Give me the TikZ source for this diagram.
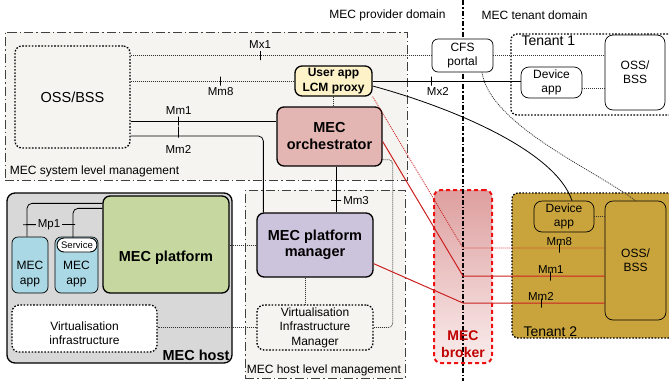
\documentclass[tikz,border=0pt]{standalone}
\usepackage{fontspec}
\setmainfont{Liberation Sans}
\usepackage{xcolor}
\usepackage{tikz}
\usetikzlibrary{positioning,backgrounds}
\definecolor{mgmtfill}{HTML}{F5F4F0}
\definecolor{hostfill}{HTML}{D8D8D8}
\definecolor{orchfill}{HTML}{E3B6B3}
\definecolor{mpmfill}{HTML}{CCC3DC}
\definecolor{platfill}{HTML}{C6D8A0}
\definecolor{appfill}{HTML}{AAD8E4}
\definecolor{proxyfill}{HTML}{FDF2C8}
\definecolor{tenantfill}{HTML}{C9A43C}
\definecolor{brokerstroke}{HTML}{EE1111}
\definecolor{brokertext}{HTML}{C00000}
\definecolor{brokertop}{HTML}{DE9F9F}
\definecolor{brokerbot}{HTML}{FAEDED}
\definecolor{redref}{HTML}{CC2020}
\tikzset{
  lbl/.style={font=\fontsize{12}{14.4}\selectfont},
  reflbl/.style={font=\fontsize{11.5}{13}\selectfont, inner sep=1.5pt},
  mgmtbox/.style={draw=black!75, fill=mgmtfill, line width=0.8pt,
                  dash pattern=on 9pt off 3pt on 1.5pt off 3pt, inner sep=0pt},
  dotbox/.style={draw, rounded corners=7pt, line width=1.3pt,
                 dash pattern=on 1.6pt off 1.6pt, inner sep=0pt, align=center},
  funcbox/.style={draw, rounded corners=7pt, line width=1.3pt, inner sep=0pt,
                  align=center, font=\fontsize{14.5}{17}\selectfont\bfseries},
  plainbox/.style={draw, rounded corners=6pt, line width=0.7pt, inner sep=0pt,
                   align=center, font=\fontsize{12}{14.4}\selectfont},
  tenantbox/.style={draw, rounded corners=6pt, line width=1.3pt,
                    dash pattern=on 1.6pt off 1.6pt, inner sep=0pt},
  brokerbox/.style={draw=brokerstroke, rounded corners=7pt, line width=2pt,
                    dash pattern=on 4pt off 3pt, top color=brokertop,
                    bottom color=brokerbot, inner sep=0pt},
  refdot/.style={draw=black!80, line width=0.8pt, dash pattern=on 1pt off 1pt},
  refsolid/.style={draw=black, line width=0.8pt},
  refred/.style={draw=redref, line width=1pt},
  reddot/.style={draw=redref, line width=0.8pt, dash pattern=on 1pt off 1pt},
  vtick/.style={draw=black, solid, line width=0.8pt, minimum height=9pt,
                minimum width=0pt, inner sep=0pt},
  htick/.style={draw=black, solid, line width=0.8pt, minimum width=10pt,
                minimum height=0pt, inner sep=0pt},
  divider/.style={draw=black, line width=2.2pt,
                  dash pattern=on 5pt off 2pt on 1.5pt off 2pt}
}

\begin{document}
\begin{tikzpicture}[x=1pt, y=-1pt]
  \useasboundingbox (0,0) rectangle (669,381);
  \clip (0,0) rectangle (669,381);

  % ===== Domains and boxes behind everything =====
  \begin{pgfonlayer}{background}
    \node[mgmtbox, minimum width=402pt, minimum height=148pt,
          label={[lbl, anchor=south west, inner sep=3pt, xshift=2pt]south west:MEC system level management}]
          (sysmgmt) at (206,106) {};
    \node[mgmtbox, minimum width=160pt, minimum height=188pt,
          label={[lbl, anchor=south west, inner sep=2pt]south west:MEC host level management}]
          (hostmgmt) at (325,284) {};
    \node[draw, rounded corners=8pt, line width=1.3pt, fill=hostfill,
          minimum width=225pt, minimum height=170pt,
          label={[font=\fontsize{14.5}{16}\selectfont\bfseries, anchor=south east, inner sep=3pt]south east:MEC host}]
          (host) at (119.5,278) {};
    \node[tenantbox, fill=white, minimum width=179pt, minimum height=81pt,
          label={[font=\fontsize{14}{16}\selectfont, anchor=north west, inner sep=2pt, xshift=9pt]north west:Tenant 1}]
          (ten1) at (600.5,74.5) {};
    \node[tenantbox, fill=tenantfill, minimum width=178pt, minimum height=145pt,
          label={[font=\fontsize{14}{16}\selectfont, anchor=south west, inner sep=2pt, xshift=10pt]south west:Tenant 2}]
          (ten2) at (601,265.5) {};
    \node[brokerbox, minimum width=58pt, minimum height=173pt] (broker) at (463,276.5) {};
    % provider / tenant border
    \coordinate (divtop) at (463,0);
    \coordinate (divbot) at (463,381);
    \draw[divider] (divtop) -- (divbot);
  \end{pgfonlayer}

  \node[lbl, anchor=east] (provlbl) at (449,15) {MEC provider domain};
  \node[lbl, anchor=west] (tenlbl) at (478,15) {MEC tenant domain};

  % ===== MEC system level =====
  \node[dotbox, minimum width=115pt, minimum height=102pt,
        font=\fontsize{14.5}{16}\selectfont] (oss) at (72.5,97) {OSS/BSS};
  \node[funcbox, fill=proxyfill, minimum width=77pt, minimum height=30pt,
        font=\fontsize{12}{15}\selectfont\bfseries] (proxy) at (333.5,81) {User app\\LCM proxy};
  \node[funcbox, fill=orchfill, minimum width=105pt, minimum height=59pt] (orch) at (329.5,136.5) {MEC\\orchestrator};

  % ===== MEC host level =====
  \node[funcbox, fill=mpmfill, minimum width=116pt, minimum height=64pt,
        font=\fontsize{14.5}{16}\selectfont\bfseries] (mpm) at (315,245) {MEC platform\\manager};
  \node[dotbox, lbl, minimum width=116pt, minimum height=45pt] (vim) at (315,327.5)
        {Virtualisation\\Infrastructure\\Manager};

  % ===== MEC host =====
  \node[funcbox, fill=platfill, minimum width=126pt, minimum height=97pt,
        label={[font=\fontsize{14.5}{16}\selectfont\bfseries, yshift=-13pt]center:MEC platform}]
        (plat) at (166,244.5) {};
  \node[plainbox, fill=appfill, minimum width=36pt, minimum height=56pt,
        label={[lbl, align=center, yshift=-9pt]center:MEC\\app}] (app1) at (30,265) {};
  \node[plainbox, fill=appfill, minimum width=43pt, minimum height=56pt,
        label={[lbl, align=center, yshift=-9pt]center:MEC\\app}] (app2) at (76.5,265) {};
  \node[plainbox, fill=white, rounded corners=7pt, line width=0.9pt,
        minimum width=40pt, minimum height=14pt,
        font=\fontsize{9.5}{10}\selectfont] (svc) at (77,245) {Service};
  \node[dotbox, fill=white, minimum width=145pt, minimum height=47pt,
        label={[lbl, align=center, yshift=-5pt]center:Virtualisation\\infrastructure}]
        (vi) at (84.5,328.5) {};

  % ===== Tenants =====
  \node[plainbox, fill=white] (cfs) at (462.5,55.5) [minimum width=61pt, minimum height=33pt] {CFS\\portal};
  \node[plainbox, fill=white, rounded corners=8pt, minimum width=60pt, minimum height=75pt] (oss1) at (635,72.5) {OSS/\\BSS};
  \node[plainbox, fill=white, rounded corners=8pt, minimum width=61pt, minimum height=31pt] (dev1) at (551.5,82.5) {Device\\app};
  \node[plainbox, fill=tenantfill, rounded corners=8pt, minimum width=60pt, minimum height=31pt] (dev2) at (564,216.5) {Device\\app};
  \node[plainbox, fill=tenantfill, rounded corners=8pt, minimum width=61pt, minimum height=119pt] (oss2) at (635.5,260.5) {OSS/\\BSS};
  \node[font=\fontsize{14}{17}\selectfont\bfseries, text=brokertext, align=center,
        above=3pt of broker.south] (brokerlbl) {MEC\\broker};

  % ===== Reference points, provider side =====
  \draw[refdot] (oss.east |- cfs.west) -- node[vtick, pos=.43, label={[reflbl]above:Mx1}] {} (cfs.west);
  \draw[refdot] (cfs.east) -- (cfs.east -| oss1.west);
  \draw[refdot] (oss.east |- proxy.west) -- node[vtick, pos=.55, label={[reflbl]below:Mm8}] {} (proxy.west);
  \coordinate (mm1r) at ([yshift=15.5pt]orch.west);
  \draw[refsolid] (oss.east |- mm1r) -- node[vtick, pos=.33, label={[reflbl]above:Mm1}] {} (mm1r);
  \coordinate (mm2l) at ([yshift=-39pt]oss.east);
  \coordinate (mm2b) at ([xshift=7pt]mpm.north west);
  \draw[refsolid, rounded corners=5pt] (mm2l) -- node[vtick, pos=.36, label={[reflbl, yshift=-3pt]below:Mm2}] {} (mm2l -| mm2b) -- (mm2b);
  \draw[refdot] (proxy.south) -- (proxy.south |- orch.north);
  \coordinate (mm3t) at ([xshift=6.5pt]orch.south);
  \draw[refsolid] (mm3t) -- node[htick, pos=.74, label={[reflbl]right:Mm3}] {} (mm3t |- mpm.north);
  \draw[refdot, rounded corners=4pt] ([yshift=7pt]orch.south east) -| ([xshift=19pt]vim.east) -- (vim.east);
  \draw[refdot] (mpm.west) -- (mpm.west -| plat.east);
  \draw[refdot] ([xshift=-10pt]mpm.south) -- ([xshift=-10pt]vim.north);
  \draw[refdot] (vim.west) -- (vim.west -| vi.east);

  % Mp1
  \draw[refsolid, rounded corners=5pt] ([xshift=-3pt]app1.north) |- ([yshift=-8pt]plat.north west);
  \draw[refsolid, rounded corners=5pt] ([xshift=-4pt]svc.north) |- ([yshift=-13pt]plat.north west);
  \draw[refsolid] ([xshift=-7pt, yshift=12pt]app1.north) -- node[fill=hostfill, inner sep=1pt, reflbl] {Mp1} ([xshift=-2pt, yshift=13pt]svc.north);

  % ===== Reference points towards tenants =====
  \draw[refsolid] (proxy.east) -- node[vtick, pos=.40, label={[reflbl, xshift=6pt]below:Mx2}] {} (proxy.east -| dev1.west);
  \draw[refdot] ([yshift=-6pt]dev1.east) -- ([yshift=-6pt]dev1.east -| oss1.west);
  \draw[refsolid] ([yshift=-5pt]proxy.east) .. controls (450,107) and (555,150) .. ([xshift=8pt]dev2.north);
  \draw[refdot] ([xshift=19.5pt]cfs.south) .. controls (490,125) and (595,170) .. (oss2.north);
  \draw[refdot] (dev2.east) -- (dev2.east -| oss2.west);

  % brokered Mm8 / Mm1 / Mm2
  \coordinate (brk8) at ([yshift=-59pt]broker.north);
  \coordinate (brk1) at ([yshift=-87pt]broker.north);
  \coordinate (brk2) at ([yshift=-114pt]broker.north);
  \draw[reddot] (proxy.south east) -- (brk8) -- node[vtick, pos=.68, label={[reflbl, yshift=-4pt]above:Mm8}] {} (brk8 -| oss2.west);
  \draw[refred] ([yshift=-5pt]orch.east) -- (brk1) -- node[vtick, pos=.62, label={[reflbl, yshift=-4pt]above:Mm1}] {} (brk1 -| oss2.west);
  \draw[refred] ([yshift=14pt]mpm.south east) -- (brk2) -- node[vtick, pos=.55, label={[reflbl, yshift=-4pt]above:Mm2}] {} (brk2 -| oss2.west);

\end{tikzpicture}
\end{document}
